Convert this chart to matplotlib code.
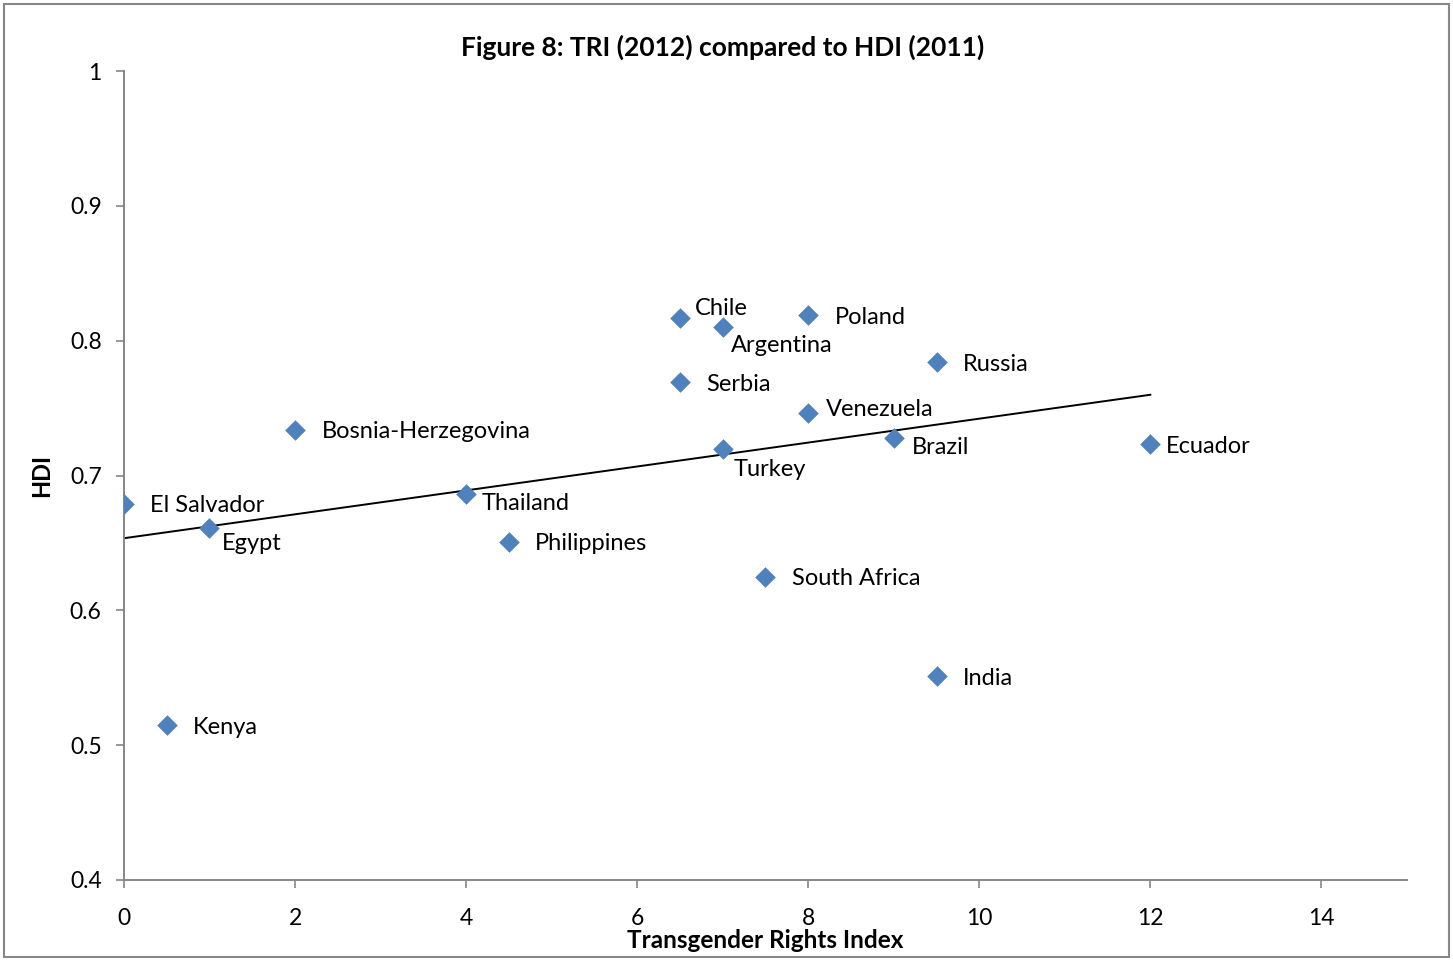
import numpy as np
import matplotlib.pyplot as plt
from matplotlib.patches import Rectangle

plt.rcParams['font.family'] = ['Lato', 'DejaVu Sans']

countries = ["El Salvador", "Egypt", "Kenya", "Bosnia-Herzegovina", "Thailand",
             "Philippines", "Chile", "Serbia", "Argentina", "Turkey", "South Africa",
             "Poland", "Venezuela", "Brazil", "Russia", "India", "Ecuador"]
tri = [0, 1, 0.5, 2, 4, 4.5, 6.5, 6.5, 7, 7, 7.5, 8, 8, 9, 9.5, 9.5, 12]
hdi = [0.679, 0.661, 0.515, 0.734, 0.686, 0.651, 0.817, 0.769, 0.810, 0.720,
       0.625, 0.819, 0.746, 0.728, 0.784, 0.551, 0.723]

# label offsets in points (x, y)
offsets = {
    "El Salvador": (19, -1.5), "Egypt": (9, -11), "Kenya": (19, -1.5),
    "Bosnia-Herzegovina": (19, -1.5), "Thailand": (11, -6.5), "Philippines": (19, -1.5),
    "Chile": (11, 6.5), "Serbia": (19, -1.5), "Argentina": (6, -13), "Turkey": (8, -15),
    "South Africa": (19, -1.5), "Poland": (19, -1.5), "Venezuela": (13, 3),
    "Brazil": (13, -7), "Russia": (19, -1.5), "India": (19, -1.5), "Ecuador": (11, -1.5),
}

fig = plt.figure(figsize=(14.53, 9.61), dpi=100)
ax = fig.add_axes([0.0853, 0.0843, 0.883, 0.8418])

ax.scatter(tri, hdi, marker='D', s=110, color='#4F81BD', zorder=3, linewidths=0)

# linear trendline
m, b = np.polyfit(tri, hdi, 1)
xs = np.array([min(tri), max(tri)])
ax.plot(xs, m * xs + b, color='black', lw=1.4, zorder=2)

for name, x, y in zip(countries, tri, hdi):
    dx, dy = offsets[name]
    ax.annotate(name, (x, y), xytext=(dx, dy), textcoords='offset points',
                ha='left', va='center', fontsize=17)

ax.set_xlim(0, 15)
ax.set_ylim(0.4, 1.0)
ax.set_xticks(range(0, 15, 2))
ax.set_yticks([0.4, 0.5, 0.6, 0.7, 0.8, 0.9, 1.0])
ax.set_yticklabels(["0.4", "0.5", "0.6", "0.7", "0.8", "0.9", "1"])
ax.tick_params(labelsize=16.5, color='#868686', length=6, width=1.2, direction='out')
ax.tick_params(axis='y', pad=10)
ax.tick_params(axis='x', pad=14)
for s in ['top', 'right']:
    ax.spines[s].set_visible(False)
for s in ['left', 'bottom']:
    ax.spines[s].set_color('#868686')
    ax.spines[s].set_linewidth(1.4)

fig.text(0.497, 0.951, "Figure 8: TRI (2012) compared to HDI (2011)", fontsize=19,
         fontweight='bold', ha='center', va='center')
ax.set_xlabel("Transgender Rights Index", fontsize=17.5, fontweight='bold', labelpad=0)
ax.set_ylabel("HDI", fontsize=17, fontweight='bold', labelpad=12)

fig.patches.append(Rectangle((0.003, 0.004), 0.994, 0.992, transform=fig.transFigure,
                             fill=False, edgecolor='#878787', lw=1.5))

fig.savefig("out.png", dpi=100)
